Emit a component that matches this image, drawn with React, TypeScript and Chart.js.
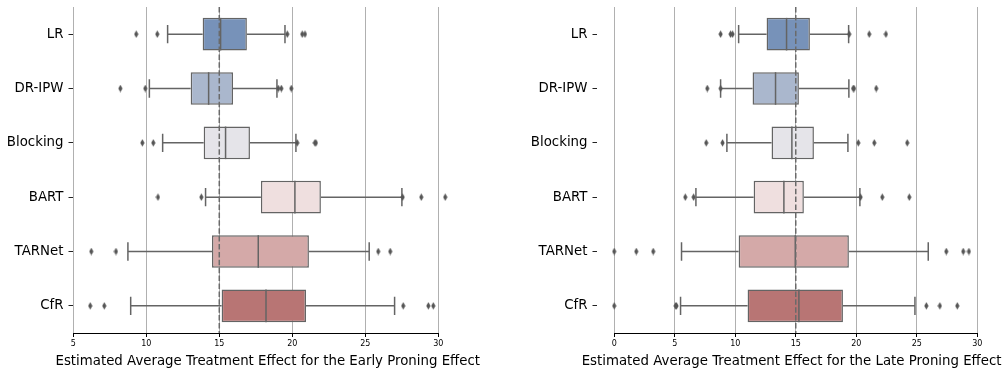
import React, { useEffect, useRef } from 'react';
import { Chart, registerables } from 'chart.js';

Chart.register(...registerables);

const FONT = '"DejaVu Sans", "Liberation Sans", sans-serif';
const LINE = '#646464';
const MARK = '#555555';

const categories = ['LR', 'DR-IPW', 'Blocking', 'BART', 'TARNet', 'CfR'];
const boxColors = ['#7792b9', '#aab7cd', '#e5e4e9', '#efdfdf', '#d4a9a8', '#b87574'];
const referenceValue = 15;

// Early proning effect
const earlyTicks = [5, 10, 15, 20, 25, 30];
const earlyRange = [4.944, 31.696];
const earlyWhiskerLow = [11.46, 10.21, 11.12, 14.06, 8.74, 8.93];
const earlyQ1 = [13.86, 13.04, 13.93, 17.85, 14.5, 15.16];
const earlyMedian = [15.09, 14.27, 15.43, 20.18, 17.67, 18.2];
const earlyQ3 = [16.89, 15.94, 17.1, 21.96, 21.14, 20.94];
const earlyWhiskerHigh = [19.5, 18.95, 20.25, 27.51, 25.27, 27.01];
const earlyMean = [15.32, 14.54, 15.66, 20.18, 17.72, 18.2];
const earlyOutliers = [
  [9.31, 10.75, 19.66, 20.68, 20.87],
  [8.22, 9.93, 19.04, 19.25, 19.93],
  [9.73, 10.48, 20.34, 21.55, 21.62],
  [10.8, 13.77, 27.56, 28.84, 30.48],
  [6.23, 7.92, 25.89, 26.71],
  [6.16, 7.12, 27.6, 29.32, 29.66],
];
const earlyTitle = 'Estimated Average Treatment Effect for the Early Proning Effect';

// Late proning effect
const lateTicks = [0, 5, 10, 15, 20, 25, 30];
const lateRange = [-1.466, 30.78];
const lateWhiskerLow = [10.28, 8.79, 9.31, 6.75, 5.56, 5.48];
const lateQ1 = [12.59, 11.43, 13.0, 11.52, 10.28, 11.02];
const lateMedian = [14.24, 13.33, 14.68, 14.02, 14.96, 15.26];
const lateQ3 = [16.17, 15.26, 16.5, 15.67, 19.39, 18.9];
const lateWhiskerHigh = [19.37, 19.39, 19.31, 20.3, 25.95, 24.85];
const lateMean = [14.52, 13.55, 14.96, 14.0, 15.18, 15.26];
const lateOutliers = [
  [8.79, 9.61, 9.78, 19.42, 21.07, 22.45],
  [7.69, 8.79, 19.75, 19.81, 21.65],
  [7.6, 8.95, 20.17, 21.49, 24.21],
  [5.87, 6.56, 20.36, 22.15, 24.38],
  [0, 1.82, 3.22, 27.44, 28.84, 29.31],
  [0, 5.07, 5.15, 25.79, 26.91, 28.35],
];
const lateTitle = 'Estimated Average Treatment Effect for the Late Proning Effect';

const boxLinesPlugin = {
  id: 'boxLines',
  beforeDatasetsDraw(chart: any, _args: any, opts: any) {
    const { ctx } = chart;
    const xs = chart.scales.x;
    const ys = chart.scales.y;
    const band = ys.getPixelForValue(1) - ys.getPixelForValue(0);
    const cap = band * 0.6 * 0.28;
    ctx.save();
    ctx.strokeStyle = LINE;
    ctx.lineWidth = 1.5;
    opts.low.forEach((lo: number, i: number) => {
      const cy = ys.getPixelForValue(i);
      const xl = xs.getPixelForValue(lo);
      const xh = xs.getPixelForValue(opts.high[i]);
      const x1 = xs.getPixelForValue(opts.q1[i]);
      const x3 = xs.getPixelForValue(opts.q3[i]);
      ctx.beginPath();
      ctx.moveTo(xl, cy);
      ctx.lineTo(x1, cy);
      ctx.moveTo(x3, cy);
      ctx.lineTo(xh, cy);
      ctx.moveTo(xl, cy - cap);
      ctx.lineTo(xl, cy + cap);
      ctx.moveTo(xh, cy - cap);
      ctx.lineTo(xh, cy + cap);
      ctx.stroke();
    });
    ctx.restore();
  },
  afterDatasetDraw(chart: any, args: any, opts: any) {
    if (args.index !== 0) return;
    const { ctx } = chart;
    const xs = chart.scales.x;
    const ys = chart.scales.y;
    const band = ys.getPixelForValue(1) - ys.getPixelForValue(0);
    const half = (band * 0.6) / 2;
    ctx.save();
    ctx.strokeStyle = LINE;
    ctx.lineWidth = 1.5;
    opts.med.forEach((m: number, i: number) => {
      const cy = ys.getPixelForValue(i);
      const xm = xs.getPixelForValue(m);
      ctx.beginPath();
      ctx.moveTo(xm, cy - half);
      ctx.lineTo(xm, cy + half);
      ctx.stroke();
    });
    ctx.restore();
  },
  afterDatasetsDraw(chart: any, _args: any, opts: any) {
    const { ctx, chartArea } = chart;
    const xs = chart.scales.x;
    ctx.save();
    const xr = xs.getPixelForValue(opts.ref);
    ctx.strokeStyle = '#6a6a6a';
    ctx.lineWidth = 1.5;
    ctx.setLineDash([5.5, 2.4]);
    ctx.beginPath();
    ctx.moveTo(xr, chartArea.top);
    ctx.lineTo(xr, chartArea.bottom);
    ctx.stroke();
    ctx.setLineDash([]);
    const t = opts.ticks;
    ctx.strokeStyle = '#000000';
    ctx.lineWidth = 1;
    const yb = Math.round(chartArea.bottom) + 0.5;
    ctx.beginPath();
    ctx.moveTo(xs.getPixelForValue(t[0]), yb);
    ctx.lineTo(xs.getPixelForValue(t[t.length - 1]), yb);
    ctx.stroke();
    ctx.restore();
  },
  afterDraw(chart: any, _args: any, opts: any) {
    const { ctx, chartArea } = chart;
    ctx.save();
    ctx.fillStyle = '#000000';
    ctx.font = `13.33px ${FONT}`;
    ctx.textAlign = 'center';
    ctx.textBaseline = 'alphabetic';
    ctx.fillText(opts.title, (chartArea.left + chartArea.right) / 2, 364.5);
    ctx.restore();
  },
};

function makeDiamond(): HTMLCanvasElement {
  const c = document.createElement('canvas');
  c.width = 5;
  c.height = 8;
  const g = c.getContext('2d')!;
  g.fillStyle = MARK;
  g.beginPath();
  g.moveTo(2.5, 0.3);
  g.lineTo(4.6, 4);
  g.lineTo(2.5, 7.7);
  g.lineTo(0.4, 4);
  g.closePath();
  g.fill();
  return c;
}

type PanelProps = {
  left: number;
  width: number;
  yAxisWidth: number;
  padRight: number;
  low: number[];
  q1: number[];
  med: number[];
  q3: number[];
  high: number[];
  mean: number[];
  outliers: number[][];
  range: number[];
  ticks: number[];
  title: string;
};

function BoxPanel(p: PanelProps) {
  const ref = useRef<HTMLCanvasElement>(null);
  useEffect(() => {
    const diamond = makeDiamond();
    const outlierPoints: { x: number; y: string }[] = [];
    p.outliers.forEach((arr, i) => arr.forEach((v) => outlierPoints.push({ x: v, y: categories[i] })));
    const meanPoints = p.mean.map((v, i) => ({ x: v, y: categories[i] }));
    const chart = new Chart(ref.current!, {
      type: 'bar',
      data: {
        labels: categories,
        datasets: [
          {
            type: 'bar',
            indexAxis: 'y',
            data: p.q1.map((v, i) => [v, p.q3[i]]),
            backgroundColor: boxColors,
            borderColor: LINE,
            borderWidth: 1.5,
            borderSkipped: false,
            barPercentage: 0.6,
            categoryPercentage: 1.0,
          } as any,
          {
            type: 'scatter',
            data: outlierPoints,
            pointStyle: diamond,
            pointRadius: 3,
            backgroundColor: MARK,
            borderWidth: 0,
          } as any,
          {
            type: 'scatter',
            data: meanPoints,
            pointStyle: 'rect',
            pointRadius: 4.2,
            backgroundColor: MARK,
            borderWidth: 0,
          } as any,
        ],
      },
      options: {
        indexAxis: 'y',
        responsive: false,
        animation: false,
        devicePixelRatio: 1,
        layout: { padding: { left: 0, top: 7, right: p.padRight, bottom: 0 } },
        plugins: {
          legend: { display: false },
          tooltip: { enabled: false },
          boxLines: {
            low: p.low,
            high: p.high,
            q1: p.q1,
            q3: p.q3,
            med: p.med,
            ref: referenceValue,
            ticks: p.ticks,
            title: p.title,
          },
        } as any,
        scales: {
          x: {
            type: 'linear',
            offset: false,
            min: p.range[0],
            max: p.range[1],
            afterBuildTicks: (scale: any) => {
              scale.ticks = p.ticks.map((v) => ({ value: v }));
            },
            afterFit: (scale: any) => {
              scale.height = 39;
              scale.paddingLeft = 0;
              scale.paddingRight = 0;
            },
            border: { display: false },
            grid: {
              offset: false,
              color: '#b0b0b0',
              lineWidth: 1,
              drawTicks: true,
              tickLength: 4,
              tickColor: '#000000',
              tickWidth: 1,
            },
            ticks: {
              color: '#000000',
              font: { family: FONT, size: 8 },
              padding: 2,
              maxRotation: 0,
              autoSkip: false,
            },
          },
          y: {
            type: 'category',
            offset: true,
            afterFit: (scale: any) => {
              scale.width = p.yAxisWidth;
              scale.paddingTop = 0;
              scale.paddingBottom = 0;
            },
            border: { display: false },
            grid: {
              offset: false,
              drawOnChartArea: false,
              drawTicks: true,
              tickLength: 4,
              tickColor: '#222222',
              tickWidth: 1,
            },
            ticks: {
              color: '#000000',
              font: { family: FONT, size: 13.33 },
              padding: 5,
            },
          },
        },
      } as any,
      plugins: [boxLinesPlugin],
    });
    return () => chart.destroy();
  }, []);
  return (
    <canvas
      ref={ref}
      width={p.width}
      height={372}
      style={{ position: 'absolute', left: p.left, top: 0, width: p.width, height: 372 }}
    />
  );
}

export default function App() {
  return (
    <div style={{ position: 'absolute', left: 0, top: 0, width: 1008, height: 372, background: '#ffffff', overflow: 'hidden' }}>
      <BoxPanel
        left={0}
        width={500}
        yAxisWidth={72.5}
        padRight={37}
        low={earlyWhiskerLow}
        q1={earlyQ1}
        med={earlyMedian}
        q3={earlyQ3}
        high={earlyWhiskerHigh}
        mean={earlyMean}
        outliers={earlyOutliers}
        range={earlyRange}
        ticks={earlyTicks}
        title={earlyTitle}
      />
      <BoxPanel
        left={500}
        width={508}
        yAxisWidth={96.5}
        padRight={21.3}
        low={lateWhiskerLow}
        q1={lateQ1}
        med={lateMedian}
        q3={lateQ3}
        high={lateWhiskerHigh}
        mean={lateMean}
        outliers={lateOutliers}
        range={lateRange}
        ticks={lateTicks}
        title={lateTitle}
      />
    </div>
  );
}
